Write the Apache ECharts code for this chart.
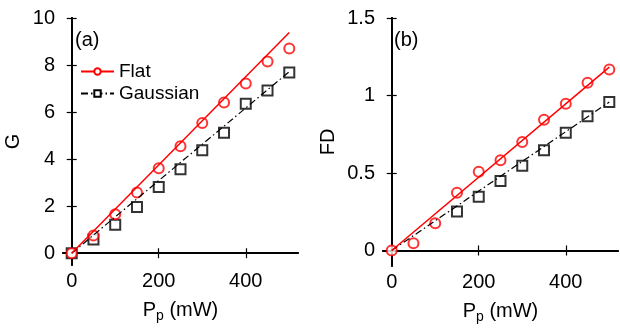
<!DOCTYPE html>
<html>
<head>
<meta charset="utf-8">
<script src="https://cdn.jsdelivr.net/npm/echarts@6/dist/echarts.min.js"></script>
<style>
  html, body { margin: 0; padding: 0; background: #fff; }
  #chart { width: 620px; height: 332px; }
</style>
</head>
<body>
<div id="chart"></div>
<script>
// pump power (mW)
const power = [0, 50, 100, 150, 200, 250, 300, 350, 400, 450, 500];

// (a) gain G
const gainFlat = [0, 0.75, 1.66, 2.58, 3.61, 4.55, 5.54, 6.41, 7.22, 8.15, 8.70];
const gainGauss = [0, 0.58, 1.21, 1.97, 2.82, 3.57, 4.38, 5.12, 6.36, 6.92, 7.68];
// linear fits (end points)
const gainFlatFit = [[0, 0], [500, 9.38]];
const gainGaussFit = [[0, 0], [500, 7.72]];

// (b) FD
const fdFlat = [0, 0.047, 0.176, 0.373, 0.508, 0.583, 0.70, 0.844, 0.947, 1.082, 1.168];
const fdGauss = [null, null, null, 0.251, 0.347, 0.448, 0.546, 0.647, 0.759, 0.866, 0.958];
const fdFlatFit = [[0, 0], [500, 1.183]];
const fdGaussFit = [[0, 0], [500, 0.958]];

const xTicks = [0, 200, 400];
const gTicks = [0, 2, 4, 6, 8, 10];
const fdTicks = [0, 0.5, 1, 1.5];

const FONT = "'Liberation Sans', Arial, sans-serif";
const FS = 20;
const RED = '#ff0000';
const BLACK = '#000000';
const DASHDOT = [7, 3, 1.5, 3];

const pairs = (ys) => power.map((x, i) => [x, ys[i]]).filter((p) => p[1] != null);

function xAxes(gridIndex) {
  const base = {
    gridIndex,
    type: 'value',
    min: -20,
    max: 520,
    splitLine: { show: false },
    axisLine: { lineStyle: { color: BLACK, width: 1.8 } },
    axisTick: { inside: true, length: 5, customValues: xTicks, lineStyle: { color: BLACK, width: 1.2 } },
  };
  return [
    {
      ...base,
      position: 'bottom',
      axisLabel: { customValues: xTicks, color: BLACK, fontSize: FS, fontFamily: FONT, margin: 6 },
      name: '{a|P}{b|p}{a| (mW)}',
      nameLocation: 'middle',
      nameGap: 33,
      nameTextStyle: {
        rich: {
          a: { fontSize: FS, fontFamily: FONT, color: BLACK, lineHeight: 24 },
          b: { fontSize: 14, fontFamily: FONT, color: BLACK, lineHeight: 24, padding: [12, 0, 0, 0] },
        },
      },
    },
    { ...base, position: 'top', axisLabel: { show: false } },
  ];
}

function yAxes(gridIndex, min, max, ticks, name, gap) {
  const base = {
    gridIndex,
    type: 'value',
    min,
    max,
    splitLine: { show: false },
    axisLine: { lineStyle: { color: BLACK, width: 1.8 } },
    axisTick: { inside: true, length: 5, customValues: ticks, lineStyle: { color: BLACK, width: 1.2 } },
  };
  return [
    {
      ...base,
      position: 'left',
      axisLabel: { customValues: ticks, color: BLACK, fontSize: FS, fontFamily: FONT, margin: 8 },
      name,
      nameLocation: 'middle',
      nameGap: gap,
      nameTextStyle: { fontSize: FS, fontFamily: FONT, color: BLACK },
    },
    { ...base, position: 'right', axisLabel: { show: false } },
  ];
}

const chart = echarts.init(document.getElementById('chart'));

const option = {
  animation: false,
  backgroundColor: '#fff',
  textStyle: { fontFamily: FONT },
  title: [
    { text: '(a)', left: 70, top: 25, textStyle: { fontSize: FS, fontWeight: 'normal', fontFamily: FONT, color: BLACK } },
    { text: '(b)', left: 389, top: 25, textStyle: { fontSize: FS, fontWeight: 'normal', fontFamily: FONT, color: BLACK } },
  ],
  legend: {
    data: ['Flat', 'Gaussian'],
    orient: 'vertical',
    left: 75,
    top: 57,
    itemWidth: 33,
    itemHeight: 8,
    itemGap: 3,
    textStyle: { fontSize: 19, fontFamily: FONT, color: BLACK },
  },
  grid: [
    { left: 63, top: 18, width: 235, height: 247 },
    { left: 383, top: 18, width: 235, height: 248 },
  ],
  xAxis: [...xAxes(0), ...xAxes(1)],
  yAxis: [...yAxes(0, -0.5, 10, gTicks, 'G', 40), ...yAxes(1, -0.1, 1.5, fdTicks, 'FD', 45)],
  series: [
    // (a)
    {
      name: 'Gaussian', type: 'line', xAxisIndex: 0, yAxisIndex: 0, data: gainGaussFit,
      showSymbol: false, symbol: 'emptyRect', symbolSize: 6,
      lineStyle: { color: BLACK, width: 1.2, type: DASHDOT }, itemStyle: { color: BLACK },
    },
    {
      name: 'Gaussian data', type: 'scatter', xAxisIndex: 0, yAxisIndex: 0, data: pairs(gainGauss),
      symbol: 'emptyRect', symbolSize: 10, itemStyle: { color: BLACK, borderWidth: 1.5 },
    },
    {
      name: 'Flat', type: 'line', xAxisIndex: 0, yAxisIndex: 0, data: gainFlatFit,
      showSymbol: false, symbol: 'emptyCircle', symbolSize: 6,
      lineStyle: { color: RED, width: 1.5 }, itemStyle: { color: RED },
    },
    {
      name: 'Flat data', type: 'scatter', xAxisIndex: 0, yAxisIndex: 0, data: pairs(gainFlat),
      symbol: 'emptyCircle', symbolSize: 10, itemStyle: { color: RED, borderWidth: 1.5 },
    },
    // (b)
    {
      name: 'Gaussian b', type: 'line', xAxisIndex: 2, yAxisIndex: 2, data: fdGaussFit,
      showSymbol: false, lineStyle: { color: BLACK, width: 1.2, type: DASHDOT },
    },
    {
      name: 'Gaussian b data', type: 'scatter', xAxisIndex: 2, yAxisIndex: 2, data: pairs(fdGauss),
      symbol: 'emptyRect', symbolSize: 10, itemStyle: { color: BLACK, borderWidth: 1.5 },
    },
    {
      name: 'Flat b', type: 'line', xAxisIndex: 2, yAxisIndex: 2, data: fdFlatFit,
      showSymbol: false, lineStyle: { color: RED, width: 1.5 },
    },
    {
      name: 'Flat b data', type: 'scatter', xAxisIndex: 2, yAxisIndex: 2, data: pairs(fdFlat),
      symbol: 'emptyCircle', symbolSize: 10, itemStyle: { color: RED, borderWidth: 1.5 },
    },
  ],
};

chart.setOption(option);
window.addEventListener('resize', () => chart.resize());
</script>
</body>
</html>
